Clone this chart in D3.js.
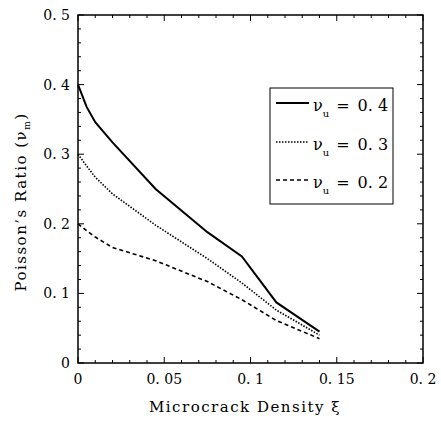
<!DOCTYPE html>
<html>
<head>
  <meta charset="utf-8">
  <title>Poisson's Ratio vs Microcrack Density</title>
  <style>
    body { margin: 0; background: white; }
    svg text { font-family: "DejaVu Serif", serif; fill: black; }
    .tick-label { font-size: 14px; }
    .axis-title { font-size: 15px; letter-spacing: 1.5px; }
    .legend-text { font-size: 16px; }
  </style>
  <script src="https://d3js.org/d3.v7.min.js"></script>
</head>
<body>
  <div id="chart"></div>
  <script>
    // Microcrack density values (x)
    const density = [0, 0.005, 0.01, 0.02, 0.045, 0.075, 0.095, 0.115, 0.14];

    // Poisson's ratio for each initial value nu_u
    const nu04 = [0.40, 0.368, 0.346, 0.317, 0.250, 0.188, 0.153, 0.087, 0.045];
    const nu03 = [0.30, 0.283, 0.267, 0.243, 0.198, 0.150, 0.115, 0.076, 0.040];
    const nu02 = [0.20, 0.190, 0.181, 0.166, 0.147, 0.117, 0.091, 0.061, 0.035];

    const seriesNames = ["0. 4", "0. 3", "0. 2"];
    const xTicks = [0, 0.05, 0.1, 0.15, 0.2];
    const xTickLabels = ["0", "0. 05", "0. 1", "0. 15", "0. 2"];
    const yTicks = [0, 0.1, 0.2, 0.3, 0.4, 0.5];
    const yTickLabels = ["0", "0. 1", "0. 2", "0. 3", "0. 4", "0. 5"];

    const dashes = [null, "1.5,1.5", "4,3"];
    const widths = [2, 1.6, 1.6];

    const W = 441, H = 427;
    const plotL = 78, plotR = 423, plotT = 15, plotB = 363;

    const svg = d3.select("#chart").append("svg")
      .attr("width", W).attr("height", H);

    const x = d3.scaleLinear().domain([0, 0.2]).range([plotL, plotR]);
    const y = d3.scaleLinear().domain([0, 0.5]).range([plotB, plotT]);

    const g = svg.append("g");

    // minor ticks on all four sides (inward)
    const xMinor = d3.range(0, 0.2001, 0.01);
    const yMinor = d3.range(0, 0.5001, 0.02);
    const isMajorX = v => Math.abs(v / 0.05 - Math.round(v / 0.05)) < 1e-6;
    const isMajorY = v => Math.abs(v / 0.1 - Math.round(v / 0.1)) < 1e-6;

    xMinor.forEach(v => {
      const len = isMajorX(v) ? 6 : 3;
      g.append("line").attr("x1", x(v)).attr("x2", x(v))
        .attr("y1", plotB).attr("y2", plotB - len)
        .attr("stroke", "black").attr("stroke-width", 1);
      g.append("line").attr("x1", x(v)).attr("x2", x(v))
        .attr("y1", plotT).attr("y2", plotT + len)
        .attr("stroke", "black").attr("stroke-width", 1);
    });
    yMinor.forEach(v => {
      const len = isMajorY(v) ? 6 : 3;
      g.append("line").attr("x1", plotL).attr("x2", plotL + len)
        .attr("y1", y(v)).attr("y2", y(v))
        .attr("stroke", "black").attr("stroke-width", 1);
      g.append("line").attr("x1", plotR).attr("x2", plotR - len)
        .attr("y1", y(v)).attr("y2", y(v))
        .attr("stroke", "black").attr("stroke-width", 1);
    });

    // frame
    g.append("rect")
      .attr("x", plotL).attr("y", plotT)
      .attr("width", plotR - plotL).attr("height", plotB - plotT)
      .attr("fill", "none").attr("stroke", "black").attr("stroke-width", 1.5);

    // tick labels
    xTicks.forEach((v, i) => {
      g.append("text").attr("class", "tick-label")
        .attr("x", x(v)).attr("y", plotB + 21)
        .attr("text-anchor", "middle")
        .text(xTickLabels[i]);
    });
    yTicks.forEach((v, i) => {
      g.append("text").attr("class", "tick-label")
        .attr("x", plotL - 8).attr("y", y(v) + 5)
        .attr("text-anchor", "end")
        .text(yTickLabels[i]);
    });

    // axis titles
    g.append("text").attr("class", "axis-title")
      .attr("x", 245).attr("y", 412)
      .attr("text-anchor", "middle")
      .text("Microcrack Density ξ");

    const yt = g.append("text").attr("class", "axis-title")
      .attr("transform", "translate(26,202) rotate(-90)")
      .attr("text-anchor", "middle");
    yt.append("tspan").text("Poisson’s Ratio (ν");
    yt.append("tspan").attr("font-size", 9).attr("dy", 4).text("m");
    yt.append("tspan").attr("dy", -4).text(")");

    // lines
    const line = d3.line()
      .x((d, i) => x(density[i]))
      .y(d => y(d));

    [nu04, nu03, nu02].forEach((s, i) => {
      g.append("path")
        .datum(s)
        .attr("fill", "none")
        .attr("stroke", "black")
        .attr("stroke-width", widths[i])
        .attr("stroke-dasharray", dashes[i])
        .attr("d", line);
    });

    // legend
    const lg = g.append("g");
    lg.append("rect")
      .attr("x", 270).attr("y", 88)
      .attr("width", 123).attr("height", 116)
      .attr("fill", "white").attr("stroke", "black").attr("stroke-width", 1);

    const rowY = [103, 142, 180];
    seriesNames.forEach((name, i) => {
      lg.append("line")
        .attr("x1", 276).attr("x2", 309)
        .attr("y1", rowY[i]).attr("y2", rowY[i])
        .attr("stroke", "black")
        .attr("stroke-width", widths[i])
        .attr("stroke-dasharray", dashes[i]);
      const t = lg.append("text").attr("class", "legend-text")
        .attr("x", 313).attr("y", rowY[i] + 8);
      t.append("tspan").text("ν");
      t.append("tspan").attr("font-size", 10).attr("dy", 6).text("u");
      t.append("tspan").attr("dy", -6).attr("dx", 7).text("=");
      t.append("tspan").attr("dx", 8).text(name);
    });
  </script>
</body>
</html>
